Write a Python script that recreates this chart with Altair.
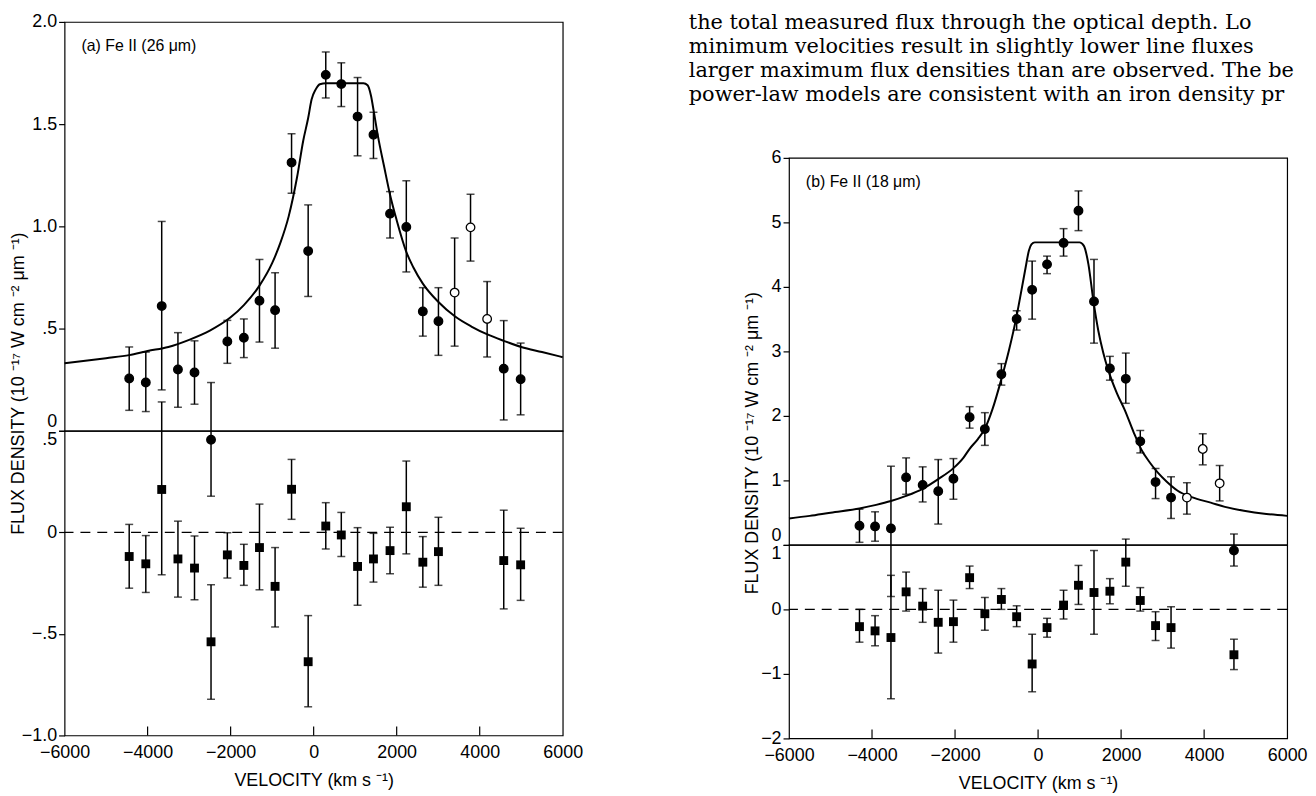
import altair as alt
import pandas as pd

# ---------------- Panel (a) Fe II 26 um ----------------
a_x = [-4443, -4043, -3660, -3269, -2870, -2472, -2079, -1681, -1305, -929, -532, -132,
       292, 666, 1058, 1441, 1840, 2232, 2630, 3006, 3396, 3779, 4179, 4579, 4986]
a_y = [0.256, 0.236, 0.61, 0.30, 0.285, -0.044, 0.437, 0.455, 0.636, 0.59, 1.312, 0.879,
       1.741, 1.696, 1.537, 1.448, 1.062, 0.997, 0.584, 0.536, 0.676, 0.995, 0.547, 0.304, 0.252]
a_lo = [0.10, 0.094, 0.20, 0.115, 0.13, -0.32, 0.33, 0.358, 0.434, 0.404, 1.162, 0.657,
        1.628, 1.586, 1.345, 1.332, 0.943, 0.777, 0.463, 0.369, 0.414, 0.83, 0.361, 0.053, 0.078]
a_hi = [0.41, 0.385, 1.024, 0.48, 0.44, 0.236, 0.54, 0.547, 0.838, 0.773, 1.453, 1.105,
        1.853, 1.80, 1.728, 1.558, 1.17, 1.223, 0.70, 0.70, 0.943, 1.157, 0.73, 0.539, 0.429]
a_open = [False] * 20 + [True, True, True] + [False, False]

a_rx = [-4443, -4043, -3660, -3269, -2870, -2472, -2079, -1681, -1305, -929, -532, -132,
        292, 666, 1058, 1441, 1840, 2232, 2630, 3006, 4579, 4986]
a_r = [-0.119, -0.155, 0.211, -0.131, -0.176, -0.539, -0.111, -0.163, -0.075, -0.266, 0.212, -0.637,
       0.031, -0.013, -0.168, -0.131, -0.09, 0.126, -0.147, -0.095, -0.139, -0.16]
a_rlo = [-0.275, -0.296, -0.209, -0.319, -0.332, -0.822, -0.225, -0.261, -0.283, -0.466, 0.064, -0.859,
         -0.082, -0.119, -0.359, -0.245, -0.204, -0.106, -0.27, -0.261, -0.377, -0.335]
a_rhi = [0.039, -0.016, 0.642, 0.055, -0.018, -0.258, -0.002, -0.059, 0.139, -0.075, 0.359, -0.41,
         0.146, 0.098, 0.023, -0.005, 0.025, 0.351, -0.021, 0.074, 0.109, 0.02]

a_cx = [-6000, -5000, -4443, -4000, -3500, -3000, -2500, -2000, -1681, -1305, -1000, -800, -600,
        -400, -250, -132, -50, 50, 150, 300, 1200, 1300, 1380, 1450, 1550, 1700, 1840, 2000,
        2232, 2400, 2630, 3006, 3400, 3800, 4200, 4579, 5000, 5500, 6000]
a_cy = [0.33, 0.355, 0.37, 0.39, 0.41, 0.445, 0.49, 0.555, 0.615, 0.71, 0.82, 0.92, 1.05,
        1.24, 1.42, 1.53, 1.62, 1.67, 1.695, 1.70, 1.70, 1.69, 1.64, 1.56, 1.44, 1.29, 1.155, 1.03,
        0.875, 0.80, 0.72, 0.63, 0.56, 0.51, 0.47, 0.44, 0.41, 0.385, 0.36]

# ---------------- Panel (b) Fe II 18 um ----------------
b_x = [-4302, -3927, -3544, -3179, -2780, -2405, -2039, -1649, -1282, -884, -516, -143,
       216, 614, 973, 1347, 1730, 2113, 2462, 2830, 3203, 3585, 3967, 4374, 4718]
b_y = [0.297, 0.287, 0.256, 1.046, 0.928, 0.831, 1.026, 1.979, 1.795, 2.646, 3.503, 3.954,
       4.349, 4.682, 5.18, 3.774, 2.734, 2.574, 1.605, 0.974, 0.733, 0.733, 1.487, 0.954, -0.087]
b_lo = [0.04, 0.057, -0.8, 0.785, 0.666, 0.323, 0.708, 1.81, 1.543, 2.477, 3.33, 3.50,
        4.205, 4.477, 4.872, 3.128, 2.554, 2.195, 1.426, 0.718, 0.41, 0.477, 1.241, 0.682, -0.328]
b_hi = [0.554, 0.513, 1.22, 1.349, 1.21, 1.323, 1.338, 2.143, 2.05, 2.81, 3.63, 4.40,
        4.477, 4.903, 5.488, 4.426, 2.923, 2.974, 1.774, 1.185, 1.056, 0.964, 1.723, 1.231, 0.169]
b_open = [False] * 21 + [True, True, True] + [False]

b_rx = [-4302, -3927, -3544, -3179, -2780, -2405, -2039, -1649, -1282, -884, -516, -143,
        216, 614, 973, 1347, 1730, 2113, 2462, 2830, 3203, 4718]
b_r = [-0.267, -0.333, -0.436, 0.272, 0.051, -0.2, -0.19, 0.492, -0.067, 0.154, -0.113, -0.846,
       -0.282, 0.067, 0.374, 0.262, 0.282, 0.733, 0.138, -0.251, -0.282, -0.703]
b_rlo = [-0.508, -0.564, -1.385, -0.026, -0.2, -0.677, -0.508, 0.323, -0.323, 0.0, -0.267, -1.277,
         -0.431, -0.149, 0.077, -0.385, 0.087, 0.359, -0.026, -0.482, -0.6, -0.933]
b_rhi = [0.0, -0.097, 0.528, 0.579, 0.323, 0.297, 0.144, 0.672, 0.185, 0.323, 0.056, -0.385,
         -0.138, 0.297, 0.682, 0.913, 0.477, 1.09, 0.338, -0.036, 0.041, -0.462]

b_cx = [-6000, -5500, -5000, -4302, -3900, -3544, -3179, -2780, -2405, -2039, -1800, -1649, -1450,
        -1282, -1100, -884, -700, -516, -400, -300, -222, -160, -80, 1000, 1100, 1213, 1331, 1451,
        1570, 1690, 1900, 2089, 2300, 2486, 2700, 2885, 3100, 3363, 3700, 4159, 4500, 4957, 5500, 6000]
b_cy = [0.41, 0.45, 0.50, 0.565, 0.62, 0.68, 0.76, 0.87, 1.02, 1.19, 1.35, 1.49, 1.64,
        1.80, 2.10, 2.57, 3.02, 3.55, 3.95, 4.30, 4.56, 4.66, 4.69, 4.69, 4.64, 4.35, 3.79, 3.32,
        2.98, 2.71, 2.35, 2.09, 1.75, 1.48, 1.27, 1.12, 0.98, 0.84, 0.74, 0.655, 0.59, 0.53, 0.48, 0.45]

x_tick_labels = [-6000, -4000, -2000, 0, 2000, 4000, 6000]
x_inner_ticks = [-4000, -2000, 0, 2000, 4000]
a_top_ticks = [0, 0.5, 1.0, 1.5, 2.0]
a_bot_ticks = [-1.0, -0.5, 0, 0.5]
b_top_ticks = [0, 1, 2, 3, 4, 5, 6]
b_bot_ticks = [-2, -1, 0, 1]

text_lines = [
    "the total measured flux through the optical depth. Lo",
    "minimum velocities result in slightly lower line fluxes",
    "larger maximum flux densities than are observed. The bes",
    "power-law models are consistent with an iron density pr",
]

Y_TITLE = "FLUX DENSITY (10 \u207b\u00b9\u2077 W cm \u207b\u00b2 \u03bcm \u207b\u00b9)"
X_TITLE = "VELOCITY (km s \u207b\u00b9)"

W = 502
A_TOP_H, A_BOT_H = 412, 307
B_TOP_H, B_BOT_H = 390, 195
TEXT_H = 137
COL_SPACING = 730

FONT = "Liberation Sans"
XS = alt.Scale(domain=[-6000, 6000], nice=False, zero=False)


def flux_panel(xv, yv, lov, hiv, openv, cx, cy, ydom, yticks, labexpr, title_x, title_y, label, H):
    df = pd.DataFrame({"x": xv, "y": yv, "lo": lov, "hi": hiv, "open": openv})
    cdf = pd.DataFrame({"x": cx, "y": cy})
    ys = alt.Scale(domain=ydom, nice=False, zero=False)
    yaxis = alt.Axis(values=yticks, labelExpr=labexpr, tickSize=6, labelPadding=2, domain=False,
                     grid=False, labelOverlap=False, title=Y_TITLE, titleX=title_x, titleY=title_y,
                     titleAngle=270, titleAlign="center", titleBaseline="bottom",
                     labelBaseline={"condition": {"test": "datum.value == 0", "value": "bottom"},
                                    "value": "middle"})
    X = alt.X("x:Q", scale=XS, axis=None)
    curve = alt.Chart(cdf).mark_line(color="black", strokeWidth=2, interpolate="monotone").encode(
        x=X, y=alt.Y("y:Q", scale=ys, axis=yaxis))
    bars = alt.Chart(df).mark_rule(color="black", strokeWidth=1.5).encode(
        x=X, y=alt.Y("lo:Q", scale=ys, axis=yaxis), y2="hi:Q")
    cap_lo = alt.Chart(df).mark_tick(color="black", orient="horizontal", size=8, thickness=1.5).encode(
        x=X, y=alt.Y("lo:Q", scale=ys, axis=yaxis))
    cap_hi = alt.Chart(df).mark_tick(color="black", orient="horizontal", size=8, thickness=1.5).encode(
        x=X, y=alt.Y("hi:Q", scale=ys, axis=yaxis))
    pts = alt.Chart(df).mark_point(shape="circle", filled=True, size=75, stroke="black",
                                   strokeWidth=1.3, opacity=1).encode(
        x=X, y=alt.Y("y:Q", scale=ys, axis=yaxis),
        fill=alt.condition("datum.open", alt.value("white"), alt.value("black")))
    lab = alt.Chart(pd.DataFrame({"t": [label]})).mark_text(
        align="left", baseline="middle", font=FONT, fontSize=16, color="black").encode(
        x=alt.value(17), y=alt.value(24), text="t:N")
    return alt.layer(curve, bars, cap_lo, cap_hi, pts, lab).properties(width=W, height=H)


def resid_panel(xv, rv, lov, hiv, ydom, yticks, labexpr, top_val, H):
    df = pd.DataFrame({"x": xv, "y": rv, "lo": lov, "hi": hiv})
    ys = alt.Scale(domain=ydom, nice=False, zero=False)
    yaxis = alt.Axis(values=yticks, labelExpr=labexpr, tickSize=6, labelPadding=2, domain=False,
                     grid=False, labelOverlap=False, title=None,
                     labelBaseline={"condition": {"test": "datum.value == %s" % top_val, "value": "top"},
                                    "value": "middle"})
    xaxis = alt.Axis(values=x_tick_labels, format="d", ticks=False, tickSize=0, labelPadding=8,
                     domain=False, grid=False, labelFlush=False, labelOverlap=False,
                     title=X_TITLE, titlePadding=10)
    X = alt.X("x:Q", scale=XS, axis=xaxis)
    zero = alt.Chart(pd.DataFrame({"y": [0]})).mark_rule(color="black", strokeWidth=1.2,
                                                         strokeDash=[10, 7]).encode(
        y=alt.Y("y:Q", scale=ys, axis=yaxis))
    bars = alt.Chart(df).mark_rule(color="black", strokeWidth=1.5).encode(
        x=X, y=alt.Y("lo:Q", scale=ys, axis=yaxis), y2="hi:Q")
    cap_lo = alt.Chart(df).mark_tick(color="black", orient="horizontal", size=8, thickness=1.5).encode(
        x=X, y=alt.Y("lo:Q", scale=ys, axis=yaxis))
    cap_hi = alt.Chart(df).mark_tick(color="black", orient="horizontal", size=8, thickness=1.5).encode(
        x=X, y=alt.Y("hi:Q", scale=ys, axis=yaxis))
    sq = alt.Chart(df).mark_square(color="black", size=80, opacity=1).encode(
        x=X, y=alt.Y("y:Q", scale=ys, axis=yaxis))
    ticks = alt.Chart(pd.DataFrame({"x": x_inner_ticks})).mark_rule(color="black", strokeWidth=1.2).encode(
        x=X, y=alt.value(H), y2=alt.value(H - 9))
    return alt.layer(zero, bars, cap_lo, cap_hi, sq, ticks).properties(width=W, height=H)


a_top_expr = "datum.value == 0 ? '0' : datum.value == 0.5 ? '.5' : format(datum.value, '.1f')"
a_bot_expr = ("datum.value == 0 ? '0' : datum.value == 0.5 ? '.5' : datum.value == -0.5 ? '\u2212.5' : "
              "format(datum.value, '.1f')")
b_expr = "format(datum.value, 'd')"

a_top = flux_panel(a_x, a_y, a_lo, a_hi, a_open, a_cx, a_cy, [0, 2], a_top_ticks, a_top_expr,
                   -37.5, 364, "(a) Fe II (26 \u03bcm)", A_TOP_H)
a_bot = resid_panel(a_rx, a_r, a_rlo, a_rhi, [-1, 0.5], a_bot_ticks, a_bot_expr, 0.5, A_BOT_H)

b_top = flux_panel(b_x, b_y, b_lo, b_hi, b_open, b_cx, b_cy, [0, 6], b_top_ticks, b_expr,
                   -28, 287, "(b) Fe II (18 \u03bcm)", B_TOP_H)
b_bot = resid_panel(b_rx, b_r, b_rlo, b_rhi, [-2, 1], b_bot_ticks, b_expr, 1, B_BOT_H)

text_df = pd.DataFrame({"i": list(range(len(text_lines))), "line": text_lines})
text_chart = alt.Chart(text_df).mark_text(
    align="left", baseline="alphabetic", font="DejaVu Serif", fontSize=21, color="black",
    limit=612, ellipsis="\u200b").encode(
    x=alt.value(-101),
    y=alt.Y("i:Q", scale=alt.Scale(domain=[0, 3], range=[7, 80]), axis=None),
    text="line:N").properties(width=W, height=TEXT_H, view=alt.ViewBackground(stroke="transparent"))

col_a = alt.vconcat(a_top, a_bot, spacing=0, bounds="flush")
col_b_inner = alt.vconcat(b_top, b_bot, spacing=0, bounds="flush")
col_b = alt.vconcat(text_chart, col_b_inner, spacing=0, bounds="flush")

chart = alt.hconcat(col_a, col_b, spacing=COL_SPACING, bounds="flush").properties(
    padding=0, background="white"
).configure_view(stroke="black", strokeWidth=1.2).configure_axis(
    labelFont=FONT, labelFontSize=18, labelColor="black",
    titleFont=FONT, titleFontSize=18, titleFontWeight="normal", titleColor="black",
    tickColor="black", tickWidth=1.2)

chart.save("out.html", embed_options={"renderer": "svg", "actions": False})
